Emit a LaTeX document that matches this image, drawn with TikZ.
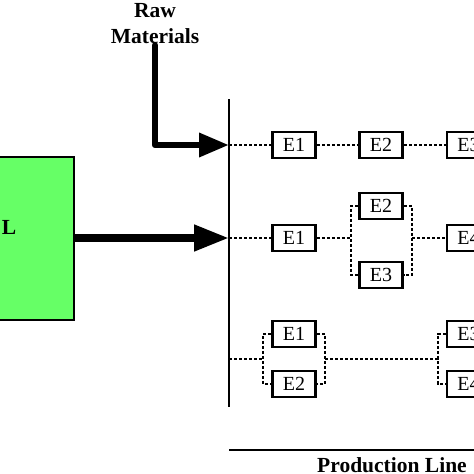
\documentclass[tikz,border=0pt]{standalone}
\usepackage{fontspec}
\setmainfont{Liberation Serif}
\usetikzlibrary{arrows.meta}
\definecolor{ctrlgreen}{RGB}{102,255,102}
\begin{document}
\begin{tikzpicture}[x=1pt,y=-1pt,
  eq/.style={draw,line width=2.6pt,minimum width=43pt,minimum height=26pt,inner sep=0pt,
    font=\fontsize{20}{20}\selectfont,fill=white},
  dl/.style={line width=2pt,dash pattern=on 3pt off 2pt},
  rawarrow/.style={line width=6.5pt,line cap=round,line join=round,-{Triangle[length=30pt,width=23pt]}},
  mainarrow/.style={line width=7.5pt,-{Triangle[length=35pt,width=25pt]}},
  lbl/.style={font=\bfseries\fontsize{21.5}{26}\selectfont,align=center,inner sep=1pt},
  heavy/.style={line width=2.5pt}]
\useasboundingbox (0,0) rectangle (474,474);
\clip (0,0) rectangle (474,474);

% control box
\node[draw,heavy,fill=ctrlgreen,minimum width=169pt,minimum height=163pt,inner sep=0pt] (ctrl) at (-10.5,238.5) {};
\node[font=\bfseries\fontsize{21.5}{21.5}\selectfont,inner sep=0pt] (ctrlL) at (9,227) {L};

% bus
\coordinate (bustop) at (229,99);
\coordinate (busbot) at (229,407);
\draw[heavy] (bustop) -- (busbot);
\coordinate (b1) at (229,145);
\coordinate (b2) at (229,238);
\coordinate (b3) at (229,359);

% raw materials
\node[lbl] (raw) at (155,24) {Raw\\Materials};
\coordinate (rawcorner) at (155,145);
\draw[rawarrow] (raw.south) -- (rawcorner) -- (b1);
\draw[mainarrow] (ctrl.east |- b2) -- (b2);

% row 1
\node[eq] (r1e1) at (294,145) {E1};
\node[eq] (r1e2) at (381,145) {E2};
\node[eq] (r1e3) at (468.5,145) {E3};
\draw[dl] (b1) -- (r1e1.west);
\draw[dl] (r1e1.east) -- (r1e2.west);
\draw[dl] (r1e2.east) -- (r1e3.west);

% row 2
\node[eq] (r2e1) at (294,238) {E1};
\node[eq] (r2e2) at (381,206) {E2};
\node[eq] (r2e3) at (381,275) {E3};
\node[eq] (r2e4) at (468.5,238) {E4};
\coordinate (r2L) at (351,238);
\coordinate (r2R) at (412,238);
\draw[dl] (b2) -- (r2e1.west);
\draw[dl] (r2e1.east) -- (r2L);
\draw[dl] (r2e2.west) -| (r2L) |- (r2e3.west);
\draw[dl] (r2e2.east) -| (r2R) |- (r2e3.east);
\draw[dl] (r2R) -- (r2e4.west);

% row 3
\node[eq] (r3e1) at (294,334) {E1};
\node[eq] (r3e2) at (294,384) {E2};
\node[eq] (r3e3) at (468.5,334) {E3};
\node[eq] (r3e4) at (468.5,384) {E4};
\coordinate (r3L) at (263,359);
\coordinate (r3R) at (325,359);
\coordinate (r3Q) at (438,359);
\draw[dl] (b3) -- (r3L);
\draw[dl] (r3e1.west) -| (r3L) |- (r3e2.west);
\draw[dl] (r3e1.east) -| (r3R) |- (r3e2.east);
\draw[dl] (r3R) -- (r3Q);
\draw[dl] (r3e3.west) -| (r3Q) |- (r3e4.west);

% production line
\coordinate (pl1) at (229,450);
\coordinate (pl2) at (474,450);
\draw[heavy] (pl1) -- (pl2);
\node[lbl,anchor=base] (prod) at (392,472) {Production Line};
\end{tikzpicture}
\end{document}
